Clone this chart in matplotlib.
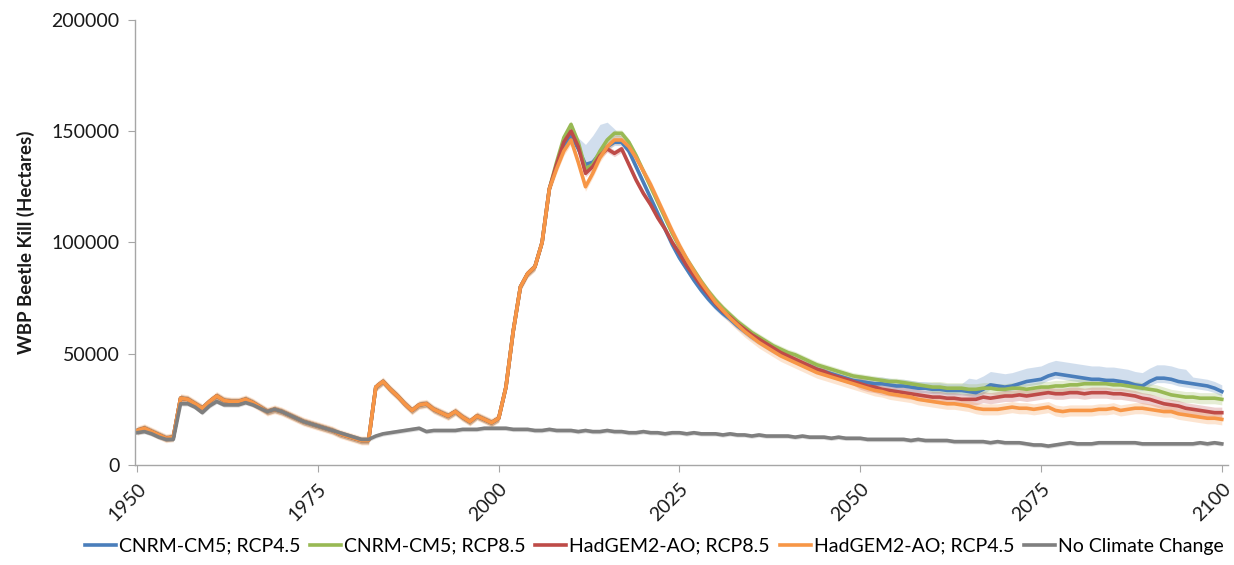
import numpy as np
import matplotlib
matplotlib.use("Agg")
import matplotlib.pyplot as plt

# -----------------------
# DATA (hectares)
# -----------------------
years = list(range(1950, 2101))

# common history used by the four climate runs, 1950-2007
hist_kill = [
    15500, 16500, 15000, 13500, 12000, 12500, 30000, 29500, 27500, 25500,   # 1950s
    28500, 31000, 29000, 28500, 28500, 29500, 28000, 26000, 24000, 25000,   # 1960s
    24000, 22500, 21000, 19500, 18500, 17500, 16500, 15500, 14000, 13000,   # 1970s
    12000, 11000, 11000, 35000, 37500, 34000, 31000, 27500, 24500, 27000,   # 1980s
    27500, 25000, 23500, 22000, 24000, 21500, 19500, 22000, 20500, 19000,   # 1990s
    21000, 35000, 60000, 80000, 86000, 89000, 100000, 124000,               # 2000-2007
]

# 2008-2100 per scenario
cnrm_45_future = [
    134000, 143000,
    148000, 142000, 135000, 136000, 140000, 143000, 145000, 145000, 141000, 134000,
    127000, 120000, 113000, 106000, 99000, 93000, 88000, 83000, 78500, 74500,
    71000, 68000, 65500, 62500, 60000, 57500, 55500, 53500, 51500, 50000,
    48500, 47000, 45500, 44500, 43000, 42000, 41000, 40000, 39000, 38000,
    37500, 37000, 36500, 36500, 36000, 35500, 35500, 35000, 34500, 34500,
    34000, 34000, 33500, 33500, 33500, 33000, 32500, 34000, 36000, 35500,
    35000, 35500, 36500, 37500, 38000, 38500, 40000, 41000, 40500, 40000,
    39500, 39000, 38500, 38500, 38000, 38000, 37500, 37000, 36000, 35500,
    37500, 39000, 39000, 38500, 37500, 37000, 36500, 36000, 35500, 34500,
    33000,
]
cnrm_85_future = [
    136000, 147000,
    153000, 145000, 133000, 135000, 141000, 146000, 149000, 149000, 145000, 139000,
    132000, 125000, 118000, 111000, 104000, 98000, 92500, 87500, 82500, 78000,
    74000, 70500, 67500, 64500, 62000, 59500, 57500, 55500, 53500, 52000,
    50500, 49500, 48000, 46500, 45000, 44000, 43000, 42000, 41000, 40000,
    39500, 39000, 38500, 38000, 37500, 37500, 37000, 36500, 36000, 35500,
    35000, 35000, 34500, 34500, 34500, 34000, 34000, 34500, 34500, 34000,
    34000, 34500, 34500, 34000, 34500, 35000, 35000, 35500, 35500, 36000,
    36000, 36500, 36500, 36500, 36500, 36000, 36000, 35500, 35000, 34500,
    34000, 33500, 32500, 31500, 31000, 30500, 30500, 30000, 30000, 30000,
    29500,
]
had_85_future = [
    135000, 145000,
    150000, 143000, 131000, 134000, 139000, 142000, 140000, 142000, 135000, 128000,
    122000, 117000, 111000, 106000, 100000, 95000, 89500, 85000, 80500, 76500,
    72500, 69000, 66500, 63500, 61000, 58500, 56500, 54500, 52500, 50500,
    49000, 47500, 46000, 44500, 43000, 42000, 40500, 39500, 38500, 37500,
    36500, 35500, 35000, 34000, 33500, 33000, 32500, 32000, 31500, 31000,
    30500, 30500, 30000, 30000, 29500, 29500, 29500, 30500, 30000, 30500,
    31000, 31000, 31500, 31000, 31500, 32000, 32500, 32000, 32000, 32500,
    32500, 32000, 32500, 32500, 32500, 32000, 32000, 31500, 31000, 30000,
    29500, 28500, 27500, 27000, 26500, 25500, 25000, 24500, 24000, 23500,
    23500,
]
had_45_future = [
    133000, 141000,
    146000, 136000, 125000, 131000, 138000, 143000, 146000, 146000, 143000, 138000,
    132000, 126000, 119000, 112000, 105000, 98500, 92500, 87000, 82000, 77500,
    73000, 69500, 66000, 63000, 60000, 57500, 55000, 53000, 51000, 49000,
    47500, 46000, 44500, 43000, 41500, 40500, 39500, 38500, 37500, 36500,
    35500, 34500, 33500, 33000, 32000, 31500, 31000, 30500, 29500, 29000,
    28500, 28000, 27500, 27500, 27000, 26500, 25500, 25000, 25000, 25000,
    25500, 26000, 25500, 25500, 25000, 25500, 26000, 24500, 24000, 24500,
    24500, 24500, 24500, 25000, 25000, 25500, 24500, 25000, 25500, 25500,
    25000, 24500, 24000, 24000, 23000, 22500, 22000, 21500, 21000, 21000,
    20500,
]
no_change = [
    14500, 15000, 14000, 12500, 11500, 11500, 27500, 27500, 26000, 23500,   # 1950s
    26500, 28500, 27000, 27000, 27000, 28000, 27000, 25500, 24000, 25000,   # 1960s
    24000, 22500, 21000, 19500, 18500, 17500, 16500, 15500, 14500, 13500,   # 1970s
    12500, 11500, 11500, 13000, 14000, 14500, 15000, 15500, 16000, 16500,   # 1980s
    15000, 15500, 15500, 15500, 15500, 16000, 16000, 16000, 16500, 16500,   # 1990s
    16500, 16500, 16000, 16000, 16000, 15500, 15500, 16000, 15500, 15500,   # 2000s
    15500, 15000, 15500, 15000, 15000, 15500, 15000, 15000, 14500, 14500,   # 2010s
    15000, 14500, 14500, 14000, 14500, 14500, 14000, 14500, 14000, 14000,   # 2020s
    14000, 13500, 14000, 13500, 13500, 13000, 13500, 13000, 13000, 13000,   # 2030s
    13000, 12500, 13000, 12500, 12500, 12500, 12000, 12500, 12000, 12000,   # 2040s
    12000, 11500, 11500, 11500, 11500, 11500, 11500, 11000, 11500, 11000,   # 2050s
    11000, 11000, 11000, 10500, 10500, 10500, 10500, 10500, 10000, 10500,   # 2060s
    10000, 10000, 10000, 9500, 9000, 9000, 8500, 9000, 9500, 10000,         # 2070s
    9500, 9500, 9500, 10000, 10000, 10000, 10000, 10000, 10000, 9500,       # 2080s
    9500, 9500, 9500, 9500, 9500, 9500, 9500, 10000, 9500, 10000,           # 2090s
    9500,
]

# shaded range around each run: distance below / above the line
cnrm_45_below = [1500] * 100 + [2000] * 51
cnrm_45_above = [1500] * 59 + [3000, 3000, 5000, 9000, 12000, 13000, 11000, 6000, 2500] \
    + [1500] * 32 + [3000] * 15 + [6000] * 31 + [3000] * 5
cnrm_85_range = [1500] * 110 + [2500] * 41
had_85_range = [1500] * 100 + [2500] * 51
had_45_range = [2000] * 80 + [2500] * 71
no_change_range = [1000] * 151

labels = ["CNRM-CM5; RCP4.5", "CNRM-CM5; RCP8.5", "HadGEM2-AO; RCP8.5",
          "HadGEM2-AO; RCP4.5", "No Climate Change"]
colors = ["#4a7ebb", "#98b954", "#be4b48", "#f79646", "#7f7f7f"]

series = [hist_kill + cnrm_45_future, hist_kill + cnrm_85_future,
          hist_kill + had_85_future, hist_kill + had_45_future, no_change]
below = [cnrm_45_below, cnrm_85_range, had_85_range, had_45_range, no_change_range]
above = [cnrm_45_above, cnrm_85_range, had_85_range, had_45_range, no_change_range]

# -----------------------
# PLOT
# -----------------------
plt.rcParams['font.family'] = ['Lato', 'DejaVu Sans']

fig = plt.figure(figsize=(12.34, 5.65), dpi=100)
ax = fig.add_axes([0.1094, 0.177, 0.886, 0.788])

x = np.array(years)
for vals, lo, hi, col in zip(series, below, above, colors):
    v = np.array(vals, dtype=float)
    ax.fill_between(x, v - np.array(lo), v + np.array(hi), color=col,
                    alpha=0.25, linewidth=0)

for vals, col, lab in zip(series, colors, labels):
    ax.plot(x, vals, color=col, linewidth=2.6, label=lab, solid_joinstyle='round')

ax.set_xlim(1949.7, 2100.9)
ax.set_ylim(0, 200000)
ax.set_yticks([0, 50000, 100000, 150000, 200000])
ax.set_yticklabels(["0", "50000", "100000", "150000", "200000"])
ax.set_xticks(list(range(1950, 2101, 25)))
ax.set_xticklabels([str(y) for y in range(1950, 2101, 25)], rotation=45,
                   ha='right', rotation_mode='anchor')

for side in ['top', 'right']:
    ax.spines[side].set_visible(False)
for side in ['left', 'bottom']:
    ax.spines[side].set_color('#a6a6a6')
    ax.spines[side].set_linewidth(1.0)
ax.tick_params(axis='both', colors='#a6a6a6', labelcolor='#1a1a1a',
               direction='out', length=5, labelsize=14)
ax.tick_params(axis='y', pad=6)
ax.tick_params(axis='x', pad=6)

ax.set_ylabel("WBP Beetle Kill (Hectares)", fontsize=13.5, fontweight='bold',
              color='#1a1a1a', labelpad=12)

fig.legend(loc='center', bbox_to_anchor=(0.53, 0.033), ncol=5, frameon=False,
           fontsize=14, handlelength=1.6, handletextpad=0.15,
           columnspacing=0.5)

fig.savefig("out.png", dpi=100)
